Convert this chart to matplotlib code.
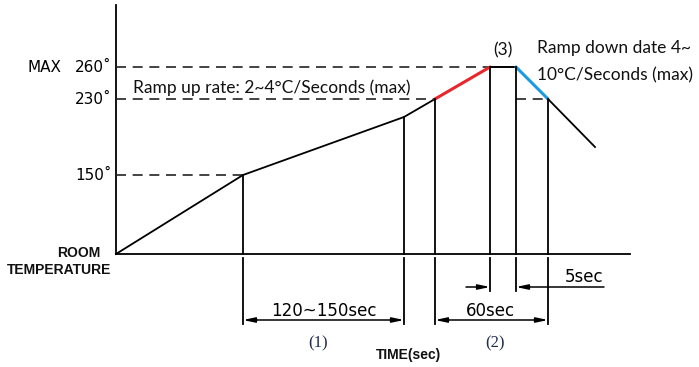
import matplotlib.pyplot as plt

# schematic reflow profile (time in drawing units, temperature as drawing level)
profile_time = [0, 127, 288, 319, 374, 400, 432, 479]
profile_level = [0, 79, 137, 155, 187, 187, 155, 107]

temp_labels = ["150˚", "230˚", "260˚"]
temp_levels = [79, 155, 187]

# vertical marker lines (time index into profile) and how far down they go
marker_idx = [1, 2, 3, 4, 5, 6]
marker_bottom = [-70, -70, -70, -37, -37, -70]

fig = plt.figure(figsize=(6.99, 3.67), dpi=100)
ax = fig.add_axes([0, 0, 1, 1])
ax.set_xlim(-116, 583)
ax.set_ylim(-113, 254)
ax.axis('off')

lw = 1.3
# axes
ax.plot([0, 0], [0, 249], color='black', lw=lw)
ax.plot([0, 514], [0, 0], color='black', lw=lw)

# dashed temperature guides
for lvl, t_end in zip(temp_levels, [127, 319, 374]):
    ax.plot([0, t_end], [lvl, lvl], color='#222222', lw=1.2, dashes=(6, 4))
ax.plot([400, 432], [155, 155], color='#222222', lw=1.2, dashes=(6, 4))
ax.plot([374, 400], [187, 187], color='#222222', lw=1.2)

# profile
ax.plot(profile_time[:4], profile_level[:4], color='black', lw=lw)
ax.plot(profile_time[3:5], profile_level[3:5], color='#e8262b', lw=2.2, solid_capstyle='round')
ax.plot(profile_time[4:6], profile_level[4:6], color='black', lw=lw)
ax.plot(profile_time[5:7], profile_level[5:7], color='#1c9be2', lw=2.2, solid_capstyle='round')
ax.plot(profile_time[6:], profile_level[6:], color='black', lw=lw)

# vertical markers
for i, bottom in zip(marker_idx, marker_bottom):
    t = profile_time[i]
    ax.plot([t, t], [profile_level[i], 0], color='black', lw=lw)
    ax.plot([t, t], [-4, bottom], color='black', lw=lw)

# dimension lines
arrow = dict(arrowstyle='<|-|>,head_length=0.7,head_width=0.15', color='black', lw=1.1,
             shrinkA=0, shrinkB=0)
ax.annotate('', xy=(profile_time[1], -66), xytext=(profile_time[2], -66), arrowprops=arrow)
ax.annotate('', xy=(profile_time[3], -66), xytext=(profile_time[6], -66), arrowprops=arrow)
one = dict(arrowstyle='-|>,head_length=0.7,head_width=0.15', color='black', lw=1.1,
           shrinkA=0, shrinkB=0)
ax.annotate('', xy=(profile_time[4], -33), xytext=(350, -33), arrowprops=one)
ax.annotate('', xy=(profile_time[5], -33), xytext=(488, -33), arrowprops=one)

# temperature labels
tick_font = dict(family='DejaVu Sans', fontsize=11, color='black')
for lab, lvl in zip(temp_labels, temp_levels):
    ax.text(-4, lvl, lab, ha='right', va='center', **tick_font)
ax.text(-88, 187, "MAX", ha='left', va='center', **tick_font)
ax.text(-16, 1, "ROOM", ha='right', va='center', family='Liberation Sans',
        fontsize=10, fontweight='bold', color='#111111')
ax.text(-5, -16, "TEMPERATURE", ha='right', va='center', family='Liberation Sans',
        fontsize=10, fontweight='bold', color='#111111')

# annotations
note_font = dict(family='Lato', fontsize=12.5, color='#111111')
ax.text(17, 166, "Ramp up rate: 2~4°C/Seconds (max)", ha='left', va='center', **note_font)
ax.text(421, 206, "Ramp down date 4~", ha='left', va='center', **note_font)
ax.text(421, 179, "10°C/Seconds (max)", ha='left', va='center', **note_font)
ax.text(387, 204, "(3)", ha='center', va='center', **note_font)

dim_font = dict(family='DejaVu Sans', fontsize=12, color='black')
ax.text(208, -57, "120~150sec", ha='center', va='center', **dim_font)
ax.text(374, -57, "60sec", ha='center', va='center', **dim_font)
ax.text(468, -23, "5sec", ha='center', va='center', **dim_font)

ax.text(202, -89, "(1)", ha='center', va='center', family='Liberation Serif',
        fontsize=12, color='#1f2d4d')
ax.text(379, -89, "(2)", ha='center', va='center', family='Liberation Serif',
        fontsize=12, color='#1f2d4d')
ax.text(292, -101, "TIME(sec)", ha='center', va='center', family='Liberation Sans',
        fontsize=10, fontweight='bold', color='#111111')

fig.savefig('out.png', dpi=100, facecolor='white')
